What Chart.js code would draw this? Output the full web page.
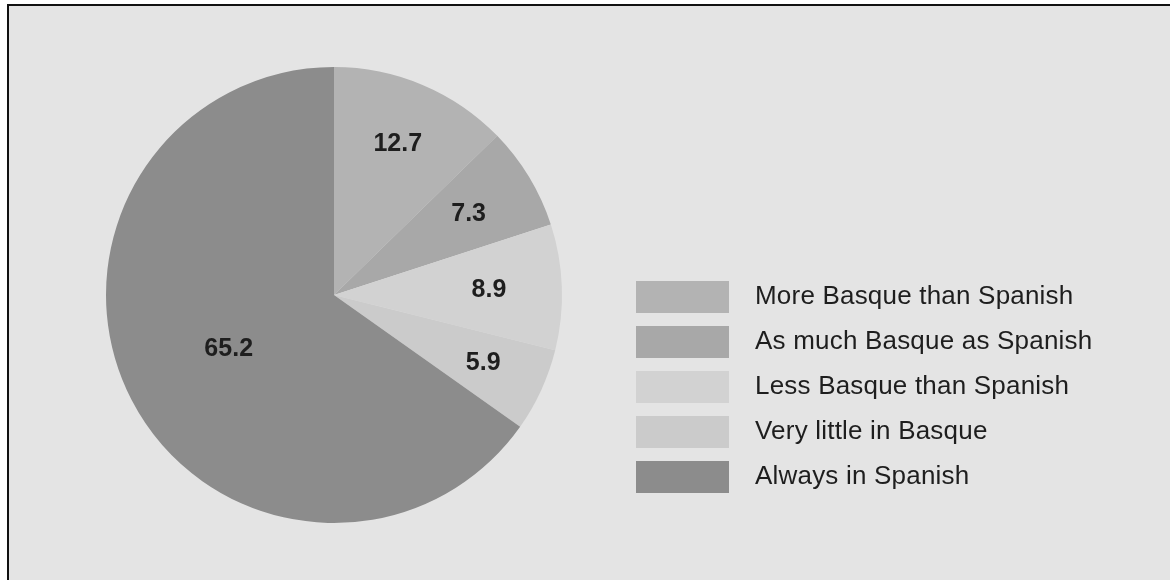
<!DOCTYPE html>
<html>
<head>
<meta charset="utf-8">
<script src="https://cdn.jsdelivr.net/npm/chart.js@4/dist/chart.umd.min.js"></script>
<style>
  html, body { margin: 0; padding: 0; background: #ffffff; }
  #wrap { position: relative; width: 1170px; height: 580px; }
</style>
</head>
<body>
<div id="wrap"><canvas id="c" width="1170" height="580"></canvas></div>
<script>
// Language use categories and their shares (%)
const categories = [
  'More Basque than Spanish',
  'As much Basque as Spanish',
  'Less Basque than Spanish',
  'Very little in Basque',
  'Always in Spanish'
];
const shares = [12.7, 7.3, 8.9, 5.9, 65.2];
const sliceColors = ['#b3b3b3', '#a8a8a8', '#d2d2d2', '#cbcbcb', '#8c8c8c'];

const FONT = '"Liberation Sans", Arial, Helvetica, sans-serif';

// Grey panel with a dark frame behind everything
const framePlugin = {
  id: 'frame',
  beforeDraw(chart) {
    const ctx = chart.ctx;
    ctx.save();
    ctx.fillStyle = '#ffffff';
    ctx.fillRect(0, 0, chart.width, chart.height);
    ctx.fillStyle = '#e4e4e4';
    ctx.fillRect(7, 4, chart.width, chart.height);
    ctx.strokeStyle = '#111111';
    ctx.lineWidth = 2;
    ctx.beginPath();
    ctx.moveTo(8, chart.height + 5);
    ctx.lineTo(8, 5);
    ctx.lineTo(chart.width + 5, 5);
    ctx.stroke();
    ctx.restore();
  }
};

// Value labels inside each slice
const sliceLabelPlugin = {
  id: 'sliceLabels',
  afterDatasetsDraw(chart, args, opts) {
    const ctx = chart.ctx;
    const meta = chart.getDatasetMeta(0);
    const values = chart.data.datasets[0].data;
    ctx.save();
    ctx.font = opts.font;
    ctx.fillStyle = opts.color;
    ctx.textAlign = 'center';
    ctx.textBaseline = 'middle';
    meta.data.forEach((arc, i) => {
      const p = arc.getProps(['x', 'y', 'startAngle', 'endAngle', 'outerRadius'], true);
      const mid = (p.startAngle + p.endAngle) / 2;
      const r = p.outerRadius * opts.radial[i];
      ctx.fillText(values[i].toFixed(1), p.x + Math.cos(mid) * r, p.y + Math.sin(mid) * r);
    });
    ctx.restore();
  }
};

// Legend drawn as a column of swatches to the right of the pie
const sideLegendPlugin = {
  id: 'sideLegend',
  afterDraw(chart, args, opts) {
    const ctx = chart.ctx;
    const labels = chart.data.labels;
    const colors = chart.data.datasets[0].backgroundColor;
    ctx.save();
    ctx.font = opts.font;
    ctx.letterSpacing = opts.letterSpacing;
    ctx.textAlign = 'left';
    ctx.textBaseline = 'middle';
    labels.forEach((lab, i) => {
      const top = opts.top + i * opts.step;
      ctx.fillStyle = colors[i];
      ctx.fillRect(opts.left, top, opts.boxW, opts.boxH);
      ctx.fillStyle = opts.color;
      ctx.fillText(lab, opts.textLeft, top + opts.boxH / 2);
    });
    ctx.restore();
  }
};

new Chart(document.getElementById('c'), {
  type: 'pie',
  data: {
    labels: categories,
    datasets: [{
      data: shares,
      backgroundColor: sliceColors,
      borderWidth: 0,
      hoverOffset: 0
    }]
  },
  options: {
    responsive: false,
    animation: false,
    events: [],
    layout: { padding: { left: 106, right: 608, top: 67, bottom: 57 } },
    plugins: {
      legend: { display: false },
      tooltip: { enabled: false },
      sliceLabels: {
        font: 'bold 25px ' + FONT,
        color: '#1e1e1e',
        radial: [0.72, 0.69, 0.68, 0.72, 0.52]
      },
      sideLegend: {
        left: 636, top: 281, step: 45, boxW: 93, boxH: 32,
        textLeft: 755,
        font: '26px ' + FONT,
        letterSpacing: '0.2px',
        color: '#1e1e1e'
      }
    }
  },
  plugins: [framePlugin, sliceLabelPlugin, sideLegendPlugin]
});
</script>
</body>
</html>
